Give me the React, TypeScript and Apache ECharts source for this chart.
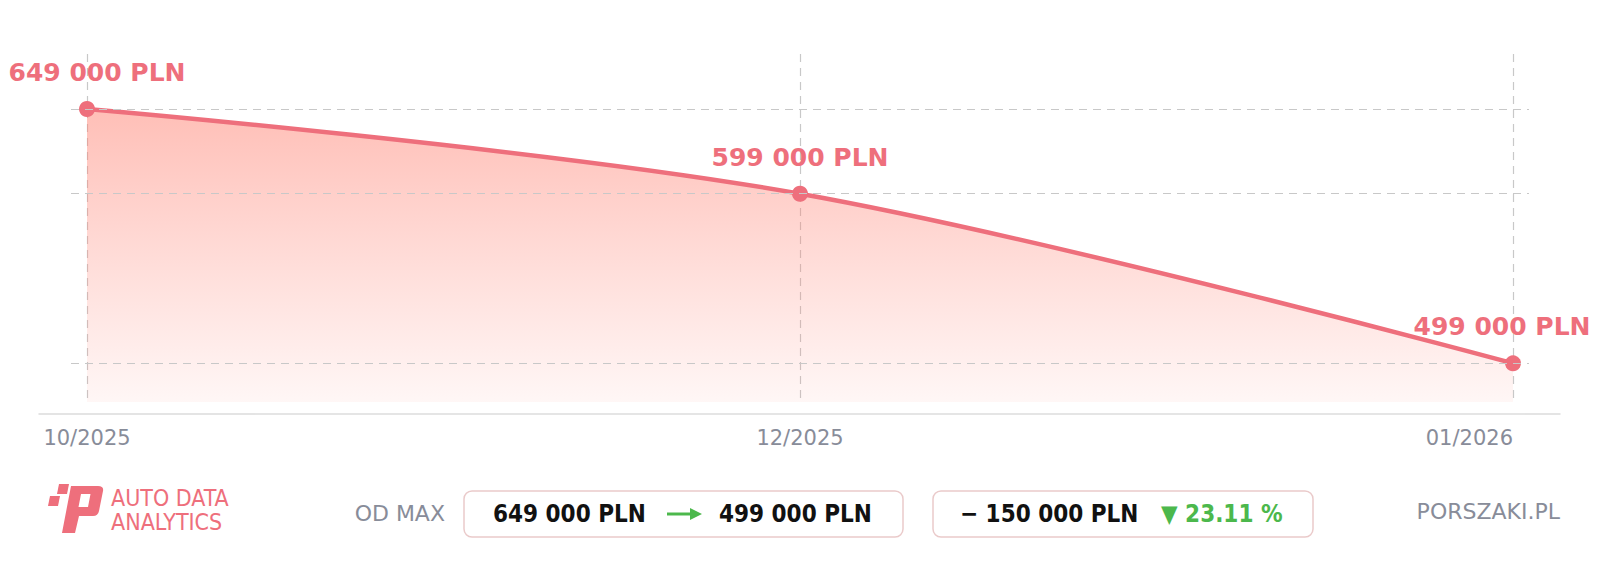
import React, { useEffect, useRef } from "react";
import * as echarts from "echarts";

const categories = ["10/2025", "12/2025", "01/2026"];
const prices = [649000, 599000, 499000];
const currency = "PLN";
const brandLines = ["AUTO DATA", "ANALYTICS"];
const siteName = "PORSZAKI.PL";
const rangeLabel = "OD MAX";
const yMin = 476200;
const yMax = 681400;

const RED = "#ee6f7c";
const GREEN = "#4cb84c";
const GRAY = "#888c99";

const fmt = (v: number) =>
  Math.round(v)
    .toString()
    .replace(/\B(?=(\d{3})+(?!\d))/g, " ") +
  " " +
  currency;

const P_PATH =
  "M71 486 L98 486 Q104 486 103 491 L99 511 Q98 516 93 516 L79 516 L75 533 L62 533 Z M81 494 L78.5 507 L88 507 L90.5 494 Z";

export default function App() {
  const ref = useRef<HTMLDivElement>(null);
  useEffect(() => {
    if (!ref.current) return;
    try {
      echarts.graphic.registerShape("plogo", echarts.graphic.extendPath(P_PATH as any, {}) as any);
    } catch (e) {}
    const chart = echarts.init(ref.current, null, { renderer: "svg" });
    const maxPrice = Math.max(...prices);
    const lastPrice = prices[prices.length - 1];
    const diff = maxPrice - lastPrice;
    const pct = ((diff / maxPrice) * 100).toFixed(2);
    const n = prices.length;
    const dataItems = prices.map((v, i) => ({
      value: v,
      label: {
        offset: i === 0 ? [10, 0] : i === n - 1 ? [-11, 0] : [0, 0],
      },
    }));
    const font = "DejaVu Sans";
    const option: any = {
      animation: false,
      backgroundColor: "#ffffff",
      grid: [
        { left: 87, right: 87, top: 54, bottom: 167 },
        { left: 71, right: 71, top: 54, bottom: 167 },
        { left: 39, right: 40, top: 54, bottom: 155 },
      ],
      xAxis: [
        {
          type: "category",
          gridIndex: 0,
          data: categories,
          boundaryGap: false,
          axisLine: { show: false },
          axisTick: { show: false },
          axisLabel: {
            color: GRAY,
            fontSize: 21,
            fontFamily: font,
            margin: 25,
            interval: 0,
            alignMinLabel: "center",
            alignMaxLabel: "right",
          },
          splitLine: {
            show: true,
            interval: 0,
            lineStyle: { color: "#c8c8c8", type: [8, 6], width: 1.2 },
          },
        },
        {
          type: "category",
          gridIndex: 1,
          data: categories,
          boundaryGap: false,
          show: false,
        },
        {
          type: "category",
          gridIndex: 2,
          data: categories,
          boundaryGap: false,
          axisLine: { show: true, lineStyle: { color: "#dcdcdc", width: 1.5 } },
          axisTick: { show: false },
          axisLabel: { show: false },
          splitLine: { show: false },
        },
      ],
      yAxis: [
        { type: "value", gridIndex: 0, min: yMin, max: yMax, show: false, splitLine: { show: false } },
        { type: "value", gridIndex: 1, min: yMin, max: yMax, show: false, splitLine: { show: false } },
        { type: "value", gridIndex: 2, min: 0, max: 1, show: false, splitLine: { show: false } },
      ],
      series: [
        {
          type: "line",
          xAxisIndex: 1,
          yAxisIndex: 1,
          data: prices,
          symbol: "none",
          silent: true,
          lineStyle: { opacity: 0 },
          z: 1,
          markLine: {
            silent: true,
            symbol: ["none", "none"],
            label: { show: false },
            lineStyle: { color: "#c8c8c8", type: [8, 6], width: 1.2 },
            data: prices.map((v) => ({ yAxis: v })),
          },
        },
        {
          type: "line",
          xAxisIndex: 0,
          yAxisIndex: 0,
          data: dataItems,
          smooth: 0.35,
          symbol: "circle",
          symbolSize: 16,
          z: 3,
          itemStyle: { color: RED },
          lineStyle: { color: RED, width: 4.5 },
          areaStyle: {
            color: new echarts.graphic.LinearGradient(0, 0, 0, 1, [
              { offset: 0, color: "rgba(255,128,112,0.72)" },
              { offset: 1, color: "rgba(255,135,122,0.1)" },
            ]),
          },
          label: {
            show: true,
            position: "top",
            distance: 16,
            color: RED,
            fontSize: 25,
            fontWeight: "bold",
            fontFamily: font,
            formatter: (p: any) => fmt(p.value),
          },
        },
      ],
      graphic: [
        // logo
        {
          type: "polygon",
          shape: { points: [[59, 484], [69, 484], [67, 494], [57, 494]] },
          style: { fill: RED },
        },
        {
          type: "polygon",
          shape: { points: [[50, 496], [60, 496], [58, 506], [48, 506]] },
          style: { fill: RED },
        },
        { type: "plogo", x: 0, y: 0, style: { fill: RED } },
        {
          type: "text",
          left: 111,
          top: 486,
          style: {
            text: brandLines[0],
            fill: RED,
            font: "23px 'DejaVu Sans Condensed'",
          },
        },
        {
          type: "text",
          left: 111,
          top: 510,
          style: {
            text: brandLines[1],
            fill: RED,
            font: "23px 'DejaVu Sans Condensed'",
          },
        },
        {
          type: "text",
          x: 445,
          y: 513,
          style: {
            text: rangeLabel,
            fill: GRAY,
            font: "22px 'DejaVu Sans'",
            align: "right",
            verticalAlign: "middle",
          },
        },
        {
          type: "rect",
          shape: { x: 464, y: 491, width: 439, height: 46, r: 8 },
          style: { fill: "#fff", stroke: "#eacaca", lineWidth: 1.5 },
        },
        {
          type: "text",
          x: 493,
          y: 514,
          style: {
            text: fmt(maxPrice),
            fill: "#111",
            font: "bold 24px 'DejaVu Sans Condensed'",
            verticalAlign: "middle",
          },
        },
        {
          type: "line",
          shape: { x1: 667, y1: 514, x2: 692, y2: 514 },
          style: { stroke: GREEN, lineWidth: 3 },
        },
        {
          type: "polygon",
          shape: { points: [[690, 508], [702, 514], [690, 520]] },
          style: { fill: GREEN },
        },
        {
          type: "text",
          x: 719,
          y: 514,
          style: {
            text: fmt(lastPrice),
            fill: "#111",
            font: "bold 24px 'DejaVu Sans Condensed'",
            verticalAlign: "middle",
          },
        },
        {
          type: "rect",
          shape: { x: 933, y: 491, width: 380, height: 46, r: 8 },
          style: { fill: "#fff", stroke: "#eacaca", lineWidth: 1.5 },
        },
        {
          type: "text",
          x: 960,
          y: 514,
          style: {
            text: "\u2212 " + fmt(diff),
            fill: "#111",
            font: "bold 24px 'DejaVu Sans Condensed'",
            verticalAlign: "middle",
          },
        },
        {
          type: "text",
          x: 1161,
          y: 514,
          style: {
            text: "\u25BC " + pct + " %",
            fill: GREEN,
            font: "bold 24px 'DejaVu Sans Condensed'",
            verticalAlign: "middle",
          },
        },
        {
          type: "text",
          x: 1560,
          y: 511,
          style: {
            text: siteName,
            fill: GRAY,
            font: "22px 'DejaVu Sans'",
            align: "right",
            verticalAlign: "middle",
          },
        },
      ],
    };
    chart.setOption(option);
    return () => chart.dispose();
  }, []);
  return (
    <div
      ref={ref}
      style={{ position: "fixed", left: 0, top: 0, width: 1600, height: 569, background: "#fff" }}
    />
  );
}
